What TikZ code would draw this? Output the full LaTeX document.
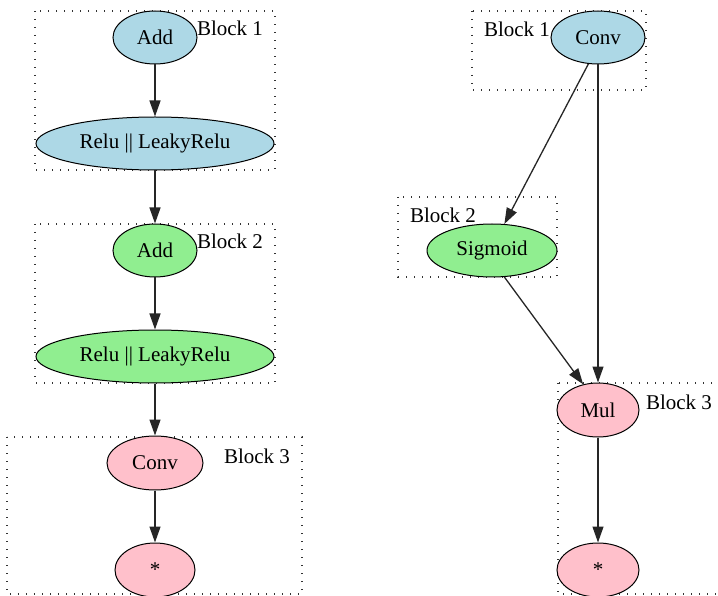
\documentclass[tikz,border=0pt]{standalone}
\usepackage{fontspec}
\setmainfont{Liberation Serif}
\usetikzlibrary{shapes.geometric,arrows.meta}
\definecolor{lblue}{HTML}{ADD8E6}
\definecolor{lgreen}{HTML}{90EE90}
\definecolor{lpink}{HTML}{FFC0CB}
\tikzset{
  op/.style={ellipse, draw=black, line width=1pt, inner sep=0pt, font=\fontsize{21}{25}\selectfont},
  blk/.style={draw=black!80, line width=1.3pt, dash pattern=on 1.2pt off 6.8pt},
  blklabel/.style={font=\fontsize{21}{25}\selectfont, inner sep=0pt},
  conn/.style={draw=black!85, line width=1.3pt, -{Triangle[length=16pt,width=11pt]}},
}
\begin{document}
\begin{tikzpicture}[x=1pt,y=-1pt]
\useasboundingbox (0,0) rectangle (718,596);
\clip (0,0) rectangle (718,596);
% block boxes
\draw[blk] (35,11) rectangle (275,170);
\draw[blk] (35,224) rectangle (275,383);
\draw[blk] (7,437) rectangle (302,594);
\draw[blk] (472,11) rectangle (646,90);
\draw[blk] (398,197) rectangle (557,277);
\draw[blk] (558,383) rectangle (740,594);
% block labels
\node[blklabel] (l1) at (230,28) {Block 1};
\node[blklabel] (l2) at (230,241) {Block 2};
\node[blklabel] (l3) at (257,456) {Block 3};
\node[blklabel] (r1) at (517,29) {Block 1};
\node[blklabel] (r2) at (443,215) {Block 2};
\node[blklabel] (r3) at (679,402) {Block 3};
% left graph
\node[op, fill=lblue, minimum width=84pt, minimum height=53pt] (add1) at (155,37.5) {Add};
\node[op, fill=lblue, minimum width=238pt, minimum height=53pt] (relu1) at (155,143.5) {Relu || LeakyRelu};
\node[op, fill=lgreen, minimum width=84pt, minimum height=53pt] (add2) at (155,250.5) {Add};
\node[op, fill=lgreen, minimum width=238pt, minimum height=53pt] (relu2) at (155,356.5) {Relu || LeakyRelu};
\node[op, fill=lpink, minimum width=96pt, minimum height=54pt] (conv3) at (155,463) {Conv};
\node[op, fill=lpink, minimum width=80pt, minimum height=54pt] (out1) at (155,570) {*};
% right graph
\node[op, fill=lblue, minimum width=94pt, minimum height=53pt] (convr) at (598,37.5) {Conv};
\node[op, fill=lgreen, minimum width=130pt, minimum height=53pt] (sig) at (492,250.5) {Sigmoid};
\node[op, fill=lpink, minimum width=82pt, minimum height=54pt] (mul) at (598,410) {Mul};
\node[op, fill=lpink, minimum width=82pt, minimum height=54pt] (out2) at (598,570) {*};
% connectors
\draw[conn] (add1) -- (relu1);
\draw[conn] (relu1) -- (add2);
\draw[conn] (add2) -- (relu2);
\draw[conn] (relu2) -- (conv3);
\draw[conn] (conv3) -- (out1);
\draw[conn] (convr.250) -- (sig.65);
\draw[conn] (convr) -- (mul);
\draw[conn] (sig.295) -- (mul.120);
\draw[conn] (mul) -- (out2);
\end{tikzpicture}
\end{document}
